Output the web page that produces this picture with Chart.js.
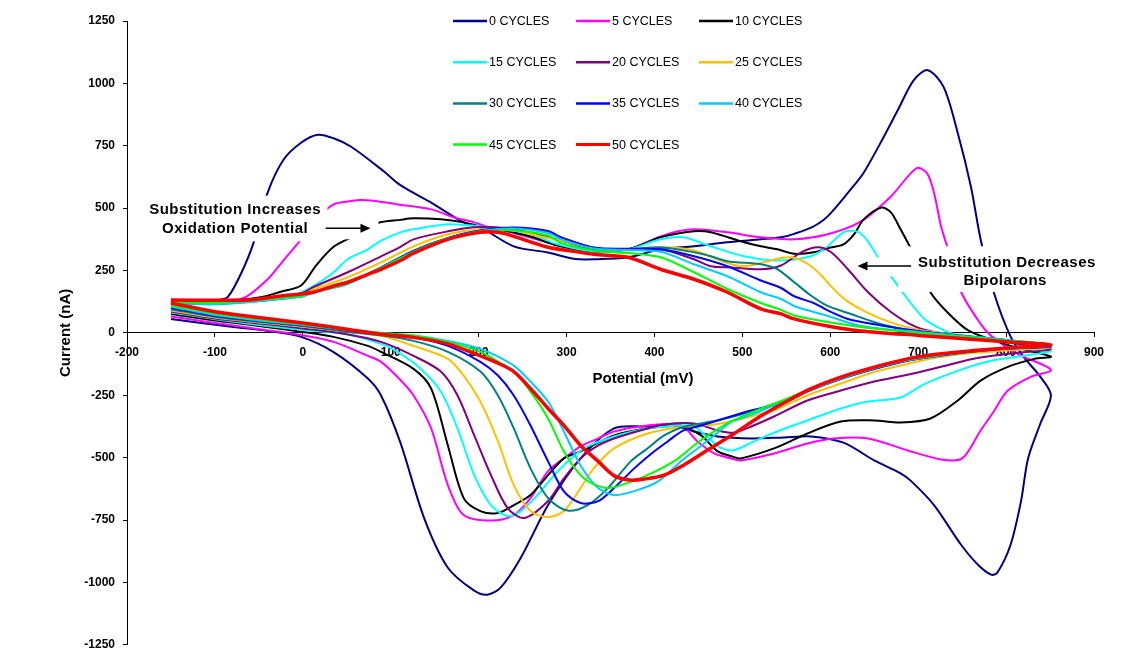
<!DOCTYPE html>
<html lang="en">
<head>
<meta charset="UTF-8" />
<title>Cyclic voltammograms vs. cycles</title>
<script src="https://cdn.jsdelivr.net/npm/chart.js"></script>
<style>
  html, body { margin: 0; padding: 0; background: #fff; overflow: hidden; }
  #wrap { position: relative; width: 1140px; height: 660px; }
</style>
</head>
<body>
<div id="wrap"><canvas id="cvChart"></canvas></div>
<script>
// series names and colours (legend order)
const cycleLabels = ['0 CYCLES', '5 CYCLES', '10 CYCLES', '15 CYCLES', '20 CYCLES', '25 CYCLES',
  '30 CYCLES', '35 CYCLES', '40 CYCLES', '45 CYCLES', '50 CYCLES'];
const cycleColors = ['#000080', '#ff00ff', '#000000', '#00ffff', '#800080', '#ffc000',
  '#008080', '#0000ff', '#00ccff', '#00ff00', '#ff0000'];

// [potential mV, current nA]: forward scan to 850 mV, then back to -150 mV
const cv0 = [[-150,128],[-120,127],[-95,132],[-85,145],[-70,240],[-56,362],[-40,562],[-22,694],[-2,762],[17,794],[35,780],[55,746],[92,648],[111,592],[146,522],[183,443],[202,423],[240,347],[279,322],[308,297],[331,295],[370,303],[407,335],[445,347],[483,363],[521,375],[544,383],[559,397],[580,425],[597,467],[623,574],[638,642],[660,780],[677,894],[695,1013],[711,1053],[729,985],[745,801],[760,586],[771,375],[786,163],[805,-14],[820,-96],[839,-176],[851,-251],
  [839,-363],[825,-503],[817,-674],[805,-850],[790,-961],[783,-969],[768,-929],[749,-850],[718,-690],[692,-594],[680,-563],[650,-511],[615,-440],[578,-415],[547,-419],[510,-423],[472,-415],[445,-395],[422,-371],[390,-375],[354,-383],[316,-503],[279,-690],[248,-901],[225,-1021],[210,-1049],[195,-1033],[165,-941],[138,-742],[111,-440],[89,-251],[74,-183],[35,-77],[-2,-16],[-40,8],[-79,24],[-120,42],[-150,56]];
const cv5 = [[-150,128],[-100,125],[-67,140],[-40,215],[-21,295],[-2,375],[15,455],[35,515],[51,527],[65,533],[80,530],[108,515],[146,495],[172,463],[195,443],[215,420],[240,400],[279,362],[308,335],[331,325],[370,335],[407,387],[427,407],[445,415],[483,403],[521,383],[559,375],[597,395],[635,447],[669,547],[698,660],[710,640],[718,562],[726,427],[734,335],[749,163],[771,36],[783,-12],[813,-84],[851,-148],
  [828,-176],[802,-231],[785,-320],[771,-391],[750,-503],[726,-507],[688,-471],[643,-423],[604,-423],[574,-443],[536,-483],[498,-511],[487,-503],[468,-483],[449,-435],[430,-370],[392,-371],[354,-395],[336,-423],[316,-455],[297,-503],[279,-554],[259,-662],[240,-730],[214,-752],[183,-730],[165,-610],[146,-383],[126,-251],[110,-185],[89,-116],[74,-92],[35,-36],[0,-10],[-50,15],[-100,40],[-150,66]];
const cv10 = [[-150,128],[-100,122],[-48,143],[-25,165],[-2,190],[15,270],[35,345],[55,383],[85,440],[111,453],[126,459],[157,455],[183,443],[202,427],[230,410],[260,385],[290,350],[331,327],[370,335],[407,383],[445,407],[464,403],[502,363],[521,347],[540,335],[559,317],[581,323],[600,342],[615,355],[627,395],[638,455],[658,502],[669,483],[680,415],[692,335],[714,163],[734,80],[757,10],[786,-30],[817,-64],[851,-95],
  [832,-104],[802,-136],[771,-191],[745,-271],[714,-343],[680,-359],[650,-351],[612,-355],[574,-403],[536,-463],[498,-503],[490,-497],[472,-475],[453,-411],[430,-375],[392,-383],[354,-411],[316,-475],[297,-503],[279,-570],[259,-650],[240,-690],[222,-722],[202,-714],[183,-662],[165,-451],[146,-223],[126,-144],[89,-76],[74,-52],[35,-16],[0,4],[-50,28],[-100,50],[-150,76]];
const cv15 = [[-150,125],[-100,115],[-14,147],[13,190],[35,243],[51,295],[74,335],[89,370],[111,403],[126,415],[165,435],[188,431],[220,420],[260,395],[290,355],[331,327],[370,335],[407,375],[433,383],[464,347],[502,307],[540,290],[578,307],[597,347],[615,403],[629,408],[640,380],[658,283],[669,227],[688,136],[707,56],[726,16],[741,-4],[786,-24],[825,-52],[851,-72],
  [820,-92],[783,-112],[745,-152],[707,-205],[680,-259],[643,-275],[612,-303],[574,-351],[536,-400],[510,-440],[490,-470],[475,-460],[461,-420],[445,-375],[430,-371],[392,-383],[354,-415],[324,-455],[305,-503],[286,-570],[267,-650],[248,-714],[233,-734],[214,-690],[195,-570],[176,-383],[157,-235],[134,-144],[108,-76],[89,-44],[50,-5],[0,12],[-50,32],[-100,55],[-150,82]];
const cv20 = [[-150,125],[-100,120],[-2,158],[13,185],[51,243],[89,307],[111,345],[126,375],[165,407],[195,423],[230,420],[260,400],[294,370],[331,335],[370,335],[407,335],[445,295],[464,267],[483,263],[521,255],[544,270],[567,323],[586,343],[601,323],[620,255],[643,163],[669,84],[695,28],[718,4],[760,-18],[800,-38],[851,-64],
  [802,-84],[763,-104],[726,-136],[688,-168],[650,-195],[612,-231],[574,-271],[536,-335],[510,-375],[490,-400],[472,-391],[445,-363],[411,-367],[392,-383],[354,-423],[336,-451],[316,-503],[297,-583],[279,-674],[252,-742],[233,-702],[214,-570],[195,-411],[176,-251],[157,-155],[126,-92],[89,-36],[50,-5],[0,18],[-50,38],[-100,58],[-150,86]];
const cv25 = [[-150,125],[-100,120],[-2,152],[13,176],[51,223],[89,283],[126,347],[165,395],[202,415],[240,410],[279,380],[294,370],[331,340],[370,330],[407,343],[445,330],[483,280],[502,267],[521,280],[544,300],[558,302],[575,275],[590,230],[600,190],[620,125],[658,56],[695,16],[750,-10],[800,-32],[851,-57],
  [802,-70],[763,-80],[726,-96],[688,-124],[650,-157],[612,-203],[574,-250],[536,-310],[510,-335],[472,-365],[430,-378],[392,-403],[354,-463],[331,-543],[316,-622],[297,-714],[279,-738],[259,-714],[240,-610],[222,-435],[202,-275],[183,-171],[165,-104],[126,-52],[89,-12],[50,5],[0,25],[-50,42],[-100,62],[-150,90]];
const cv30 = [[-150,124],[-100,118],[-2,148],[13,165],[51,200],[89,263],[126,330],[165,380],[202,410],[240,420],[279,405],[294,383],[331,340],[370,335],[407,343],[445,323],[464,307],[483,287],[521,275],[540,255],[559,203],[578,150],[597,108],[620,80],[658,35],[695,8],[760,-15],[800,-30],[851,-55],
  [802,-64],[763,-76],[726,-92],[680,-116],[623,-171],[586,-215],[547,-271],[510,-315],[472,-350],[449,-365],[430,-380],[411,-411],[392,-463],[373,-515],[347,-622],[324,-690],[301,-712],[279,-662],[259,-543],[240,-383],[222,-251],[202,-155],[165,-76],[126,-32],[89,-10],[50,5],[0,28],[-50,45],[-100,65],[-150,95]];
const cv35 = [[-150,123],[-100,116],[-2,146],[13,165],[51,198],[89,262],[126,328],[165,380],[202,410],[240,422],[279,408],[294,383],[331,342],[370,337],[407,335],[445,307],[483,267],[521,210],[544,180],[559,147],[581,120],[597,90],[620,56],[658,30],[700,8],[760,-15],[800,-28],[851,-52],
  [802,-63],[763,-74],[726,-90],[688,-112],[650,-145],[612,-185],[574,-235],[547,-280],[510,-311],[472,-351],[453,-371],[433,-391],[415,-435],[396,-485],[377,-543],[354,-622],[336,-674],[316,-682],[297,-635],[279,-515],[259,-371],[240,-251],[222,-171],[202,-116],[165,-52],[126,-16],[89,-2],[50,10],[0,30],[-50,48],[-100,68],[-150,100]];
const cv40 = [[-150,122],[-100,115],[-2,145],[13,163],[51,196],[89,260],[126,325],[165,378],[202,408],[240,418],[279,400],[294,375],[331,338],[370,332],[407,325],[445,275],[483,227],[521,163],[544,136],[559,108],[581,84],[597,68],[635,28],[700,4],[760,-15],[800,-28],[851,-50],
  [802,-62],[763,-73],[726,-89],[688,-110],[650,-142],[612,-183],[574,-233],[545,-275],[520,-315],[500,-340],[487,-358],[468,-411],[449,-463],[430,-515],[404,-595],[377,-634],[354,-650],[336,-622],[316,-531],[297,-395],[279,-275],[259,-195],[240,-131],[202,-64],[165,-32],[126,-10],[89,0],[50,12],[0,32],[-50,50],[-100,72],[-150,105]];
const cv45 = [[-150,124],[-100,120],[-2,148],[13,164],[51,198],[89,260],[126,325],[165,378],[202,405],[240,410],[279,390],[294,360],[331,330],[370,320],[407,303],[445,243],[483,176],[521,120],[544,92],[559,70],[597,44],[635,24],[700,0],[760,-18],[800,-30],[851,-47],
  [802,-60],[763,-72],[726,-87],[688,-108],[650,-140],[612,-180],[574,-230],[545,-272],[520,-305],[500,-335],[487,-355],[468,-395],[449,-440],[422,-515],[392,-570],[362,-610],[347,-622],[330,-605],[316,-570],[297,-475],[279,-343],[259,-235],[240,-155],[220,-110],[202,-76],[165,-36],[126,-10],[89,0],[50,12],[0,35],[-50,55],[-100,78],[-150,110]];
const cv50 = [[-150,132],[-63,132],[-25,148],[-2,156],[13,164],[35,188],[51,203],[74,235],[89,255],[111,290],[126,320],[165,375],[202,403],[222,403],[240,387],[279,343],[308,327],[331,315],[370,303],[407,255],[445,215],[483,163],[521,96],[544,76],[559,56],[597,28],[635,8],[700,-10],[760,-25],[800,-35],[851,-48],
  [802,-60],[763,-71],[726,-84],[688,-104],[650,-137],[612,-177],[575,-228],[545,-285],[520,-335],[490,-405],[460,-470],[433,-530],[411,-570],[390,-585],[373,-590],[354,-572],[336,-515],[316,-451],[297,-371],[279,-303],[259,-223],[240,-155],[220,-118],[202,-92],[165,-44],[126,-18],[89,-5],[50,15],[0,40],[-50,62],[-100,85],[-150,120]];

const cycles = [cv0, cv5, cv10, cv15, cv20, cv25, cv30, cv35, cv40, cv45, cv50];

const FONT = 'Arial, "Liberation Sans", sans-serif';
Chart.defaults.font.family = FONT;
Chart.defaults.color = '#000';

// legend in 3 columns at the top of the plot
const cycleLegend = {
  id: 'cycleLegend',
  afterDatasetsDraw(chart) {
    const ctx = chart.ctx;
    ctx.save();
    ctx.font = '12.5px ' + FONT;
    ctx.textBaseline = 'middle';
    chart.data.datasets.forEach((ds, i) => {
      const lx = 453 + (i % 3) * 123;
      const ly = 21 + Math.floor(i / 3) * 41.2;
      ctx.strokeStyle = ds.borderColor;
      ctx.lineWidth = ds.borderWidth > 2 ? 3 : 2.5;
      ctx.beginPath();
      ctx.moveTo(lx, ly);
      ctx.lineTo(lx + 34, ly);
      ctx.stroke();
      ctx.fillStyle = '#000';
      ctx.fillText(ds.label, lx + 36, ly + 0.5);
    });
    ctx.restore();
  }
};

function arrow(ctx, x1, y1, x2, y2) {
  const dir = Math.sign(x2 - x1);
  ctx.beginPath();
  ctx.moveTo(x1, y1);
  ctx.lineTo(x2 - dir * 8, y2);
  ctx.stroke();
  ctx.beginPath();
  ctx.moveTo(x2, y2);
  ctx.lineTo(x2 - dir * 10, y2 - 4.5);
  ctx.lineTo(x2 - dir * 10, y2 + 4.5);
  ctx.closePath();
  ctx.fill();
}

// white patch between two data corners
function blank(ctx, x, y, x0, y0, x1, y1) {
  const px0 = x.getPixelForValue(x0), py0 = y.getPixelForValue(y0);
  ctx.fillRect(px0, py0, x.getPixelForValue(x1) - px0, y.getPixelForValue(y1) - py0);
}

// the two notes with arrows, and the x axis title
const notes = {
  id: 'notes',
  afterDatasetsDraw(chart) {
    const {ctx, scales: {x, y}} = chart;
    ctx.save();
    ctx.fillStyle = '#fff';
    blank(ctx, x, y, -178, 550, 28, 367);
    blank(ctx, x, y, 28, 458, 86, 375);
    blank(ctx, x, y, 677, 347, 908, 164);
    blank(ctx, x, y, 646, 303, 692, 227);

    ctx.fillStyle = '#000';
    ctx.strokeStyle = '#000';
    ctx.lineWidth = 1.5;
    ctx.font = 'bold 15px ' + FONT;
    ctx.letterSpacing = '0.5px';
    ctx.textAlign = 'center';
    ctx.textBaseline = 'middle';
    ctx.fillText('Substitution Increases', x.getPixelForValue(-77), y.getPixelForValue(492));
    ctx.fillText('Oxidation Potential', x.getPixelForValue(-77), y.getPixelForValue(415));
    ctx.fillText('Substitution Decreases', x.getPixelForValue(801), y.getPixelForValue(282));
    ctx.fillText('Bipolarons', x.getPixelForValue(799), y.getPixelForValue(209));
    arrow(ctx, x.getPixelForValue(26), y.getPixelForValue(419), x.getPixelForValue(77), y.getPixelForValue(419));
    arrow(ctx, x.getPixelForValue(692), y.getPixelForValue(268), x.getPixelForValue(631), y.getPixelForValue(268));

    ctx.letterSpacing = '0px';
    ctx.fillText('Potential (mV)', 643, y.getPixelForValue(0) + 46);
    ctx.restore();
  }
};

const tickFont = { size: 12, weight: 'bold' };
const plainNumber = v => String(v);

new Chart(document.getElementById('cvChart'), {
  type: 'line',
  data: {
    datasets: cycles.map((pts, i) => ({
      label: cycleLabels[i],
      data: pts.map(p => ({ x: p[0], y: p[1] })),
      borderColor: cycleColors[i],
      borderWidth: i === cycles.length - 1 ? 3.5 : 2,
      pointRadius: 0,
      tension: 0.3,
      fill: false,
      order: cycles.length - i
    }))
  },
  options: {
    responsive: true,
    maintainAspectRatio: false,
    animation: false,
    layout: { padding: { left: 40, right: 46, top: 21, bottom: 13 }, autoPadding: false },
    plugins: { legend: { display: false }, tooltip: { enabled: false } },
    scales: {
      x: {
        type: 'linear',
        position: { y: 0 },
        min: -200,
        max: 900,
        ticks: { stepSize: 100, font: tickFont, color: '#000', padding: 9, maxRotation: 0, callback: plainNumber },
        grid: { drawOnChartArea: false, drawTicks: true, tickLength: 4, color: '#000', tickColor: '#000' },
        border: { display: true, color: '#000', width: 1 }
      },
      y: {
        min: -1250,
        max: 1250,
        ticks: { stepSize: 250, font: tickFont, color: '#000', padding: 8, callback: plainNumber },
        grid: { drawOnChartArea: false, drawTicks: true, tickLength: 4, color: '#000', tickColor: '#000' },
        border: { display: true, color: '#000', width: 1 },
        title: { display: true, text: 'Current (nA)', font: { size: 15, weight: 'bold' }, color: '#000', padding: { top: 17, bottom: 0 } },
        afterFit(scale) { scale.width = 87; }
      }
    }
  },
  plugins: [notes, cycleLegend]
});
</script>
</body>
</html>
